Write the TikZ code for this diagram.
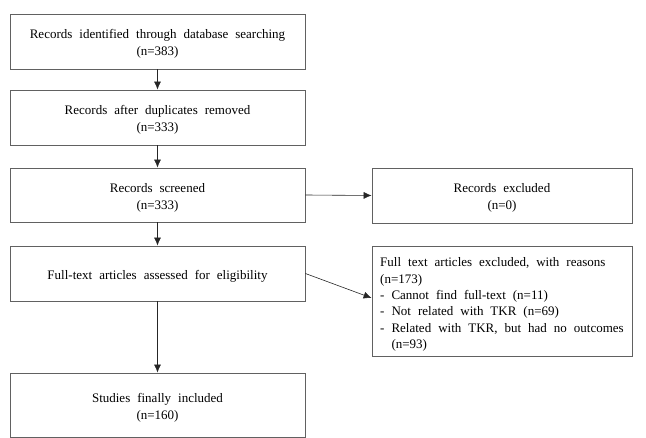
\documentclass[tikz,border=0pt]{standalone}
\usepackage{fontspec}
\setmainfont{Liberation Serif}[WordSpace={2.15,0,0}]
\usetikzlibrary{arrows.meta,calc}
\newcommand\tstrut{\rule{0pt}{14pt}}
\tikzset{
  box/.style={draw=black!62, line width=0.8pt, rectangle, inner sep=0pt,
    minimum width=295pt, minimum height=55pt, align=center, text=black,
    font=\fontsize{13}{17}\selectfont},
  rbox/.style={box, minimum width=260pt},
  arr/.style={draw=black!85, line width=0.6pt, -{Latex[length=8pt,width=7pt]}}
}
\begin{document}
\begin{tikzpicture}[x=1pt,y=-1pt]
\useasboundingbox (0,0) rectangle (646,438);
\node[box] (b1) at (157.5,41.5) {\tstrut Records identified through database searching\\(n=383)};
\node[box] (b2) at (157.5,117.5) {\tstrut Records after duplicates removed\\(n=333)};
\node[box, minimum height=54pt] (b3) at (157.5,195) {\tstrut Records screened\\(n=333)};
\node[box] (b4) at (157.5,273.5) {\tstrut Full-text articles assessed for eligibility};
\node[box, minimum height=64pt] (b5) at (157.5,405) {\tstrut Studies finally included\\(n=160)};
\node[rbox] (r1) at (502,195.5) {\tstrut Records excluded\\(n=0)};
\node[rbox, minimum height=110pt, align=left,
  font=\fontsize{13}{16.3}\selectfont] (r2) at (502,301)
  {\rule{0pt}{16pt}Full text articles excluded, with reasons\\(n=173)\\- Cannot find full-text (n=11)\\- Not related with TKR (n=69)\\- Related with TKR, but had no outcomes\\\hphantom{-\ }(n=93)};
\draw[arr] (b1) -- (b2);
\draw[arr] (b2) -- (b3);
\draw[arr] (b3) -- (b4);
\draw[arr] (b4) -- (b5);
\draw[arr] (b3.east) -- (r1.west);
\draw[arr] (b4.east) -- ($(r2.west)+(0,-3)$);
\end{tikzpicture}
\end{document}
